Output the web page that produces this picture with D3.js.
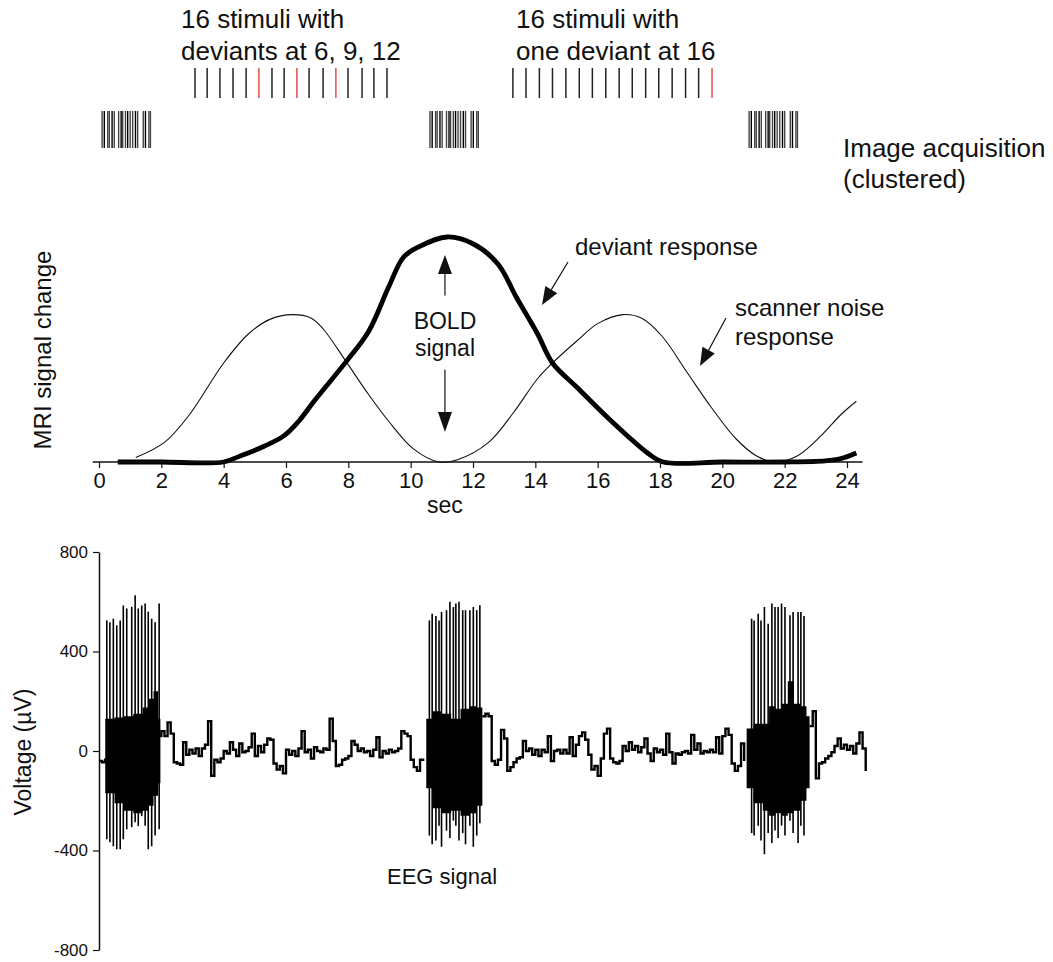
<!DOCTYPE html>
<html>
<head>
<meta charset="utf-8">
<script src="https://cdn.jsdelivr.net/npm/d3@7"></script>
<style>
  body { margin: 0; background: #fff; }
  svg text { font-family: Arial, "Liberation Sans", sans-serif; fill: #111; }
</style>
</head>
<body>
<div class="chart"></div>
<script>
// ---- stimulus schedule (sec) ----
const stimBlock1 = [3.08, 3.47, 3.88, 4.30, 4.72, 5.13, 5.55, 5.94, 6.35, 6.74, 7.19, 7.60, 7.99, 8.44, 8.82, 9.24];
const deviants1 = [6, 9, 12];
const stimBlock2 = [13.28, 13.70, 14.13, 14.55, 14.98, 15.41, 15.83, 16.26, 16.69, 17.11, 17.54, 17.96, 18.39, 18.82, 19.24, 19.67];
const deviants2 = [16];

// clustered image acquisition: cluster onsets + slice offsets (sec)
const acqOnsets = [0.10, 10.62, 20.86];
const sliceOffsets = [0, 0.07, 0.18, 0.23, 0.32, 0.39, 0.53, 0.61, 0.66, 0.75, 0.82, 0.90, 0.98, 1.07, 1.14, 1.32, 1.39, 1.50, 1.55];

// ---- MRI responses (relative signal change) ----
const boldT = [0.6, 2, 4, 4.5, 5.3, 5.94, 6.4, 6.9, 7.93, 8.65, 9.3, 9.77, 10.24, 11.17, 12.0, 12.8, 13.4, 14.07, 14.55, 15.35, 16.15, 16.95, 17.6, 18.1, 20, 22, 23.3, 23.8, 24.3];
const boldV = [0, 0, 0, 0.025, 0.07, 0.117, 0.18, 0.27, 0.446, 0.58, 0.78, 0.91, 0.955, 1.0, 0.97, 0.88, 0.73, 0.57, 0.44, 0.33, 0.22, 0.117, 0.04, 0, 0, 0, 0.005, 0.015, 0.04];
const noiseT = [1.18, 2.1, 2.9, 4.0, 4.8, 5.5, 6.2, 6.8, 7.2, 7.93, 8.65, 9.3, 10.1, 10.9, 11.5, 12.5, 13.3, 14.07, 14.55, 15.35, 16.0, 16.8, 17.4, 18.06, 18.86, 19.66, 20.46, 21.1, 21.7, 22.4, 23.17, 23.8, 24.3];
const noiseV = [0.02, 0.087, 0.21, 0.44, 0.57, 0.635, 0.655, 0.64, 0.59, 0.446, 0.30, 0.18, 0.057, 0, 0.01, 0.087, 0.22, 0.37, 0.44, 0.54, 0.615, 0.655, 0.64, 0.56, 0.40, 0.24, 0.10, 0.027, 0, 0.027, 0.117, 0.21, 0.27];
const mriTicks = [0, 2, 4, 6, 8, 10, 12, 14, 16, 18, 20, 22, 24];

// ---- EEG (µV) ----
const eegTicks = [-800, -400, 0, 400, 800];
const eegStep = 0.1;
const eegSeg0Start = 0, eegSeg0 = [-40, -45, -30];
const eegSeg1Start = 1.9, eegSeg1 = [60, 80, 60, 115, 70, -45, -50, -55, 35, -15, 5, -10, 10, -20, 10, 25, 120, -100, -35, -45,
  -30, 0, -10, 35, 5, -20, 30, -5, 0, 15, 70, -20, 20, -5, 25, 50, 45, -50, -75, -60,
  -90, 5, -15, 0, -20, 10, 80, -5, 5, -30, 15, 0, -5, 10, 5, 130, 40, -60, -55, -35,
  -30, -20, 40, 25, 0, 10, -5, 0, -20, 5, 55, -25, 0, -10, 5, -5, 0, 10, 80, 70,
  60, -35, -65, -80, -35, -30];
const eegSeg2Start = 12.3, eegSeg2 = [140, 150, 140, -40, -55, -35, 85, 50, -80, -65, -45, -30, -25, 40, 0, 10, -15, 5, -20, 5,
  -5, 60, -40, 0, 5, -10, 5, -10, 55, -20, 25, 60, 75, 45, -15, -75, -60, -100, -30, 70,
  90, -30, -45, -50, -40, 20, 0, 35, 5, 20, -5, 15, 50, -10, -40, 10, -5, 5, -15, 70,
  -5, -50, -10, -15, -5, 0, -10, 65, 5, 30, -10, 0, -5, 5, -5, 55, -10, 60, 90, 65,
  -50, -80, -60, 30, -40];
const eegSeg3Start = 22.8, eegSeg3 = [100, 160, -110, -50, -45, -30, -20, -5, 20, 50, 10, 25, 5, 20, -10, 30, 75, 10, -80];

// gradient artefact bursts: spike times, peaks, troughs, and the dense band envelope
const burst1T = [0.25, 0.35, 0.46, 0.57, 0.68, 0.78, 0.89, 1.05, 1.16, 1.26, 1.37, 1.48, 1.58, 1.69, 1.80, 1.93];
const burst1Hi = [525, 518, 532, 505, 525, 585, 573, 580, 626, 573, 585, 593, 560, 532, 518, 593];
const burst1Lo = [-355, -367, -383, -395, -395, -355, -315, -306, -286, -302, -262, -300, -395, -383, -340, -315];
const band1T = [0.2, 0.5, 0.8, 1.1, 1.4, 1.6, 1.75, 1.9, 1.97];
const band1Hi = [130, 135, 140, 150, 175, 210, 240, 130, 90];
const band1Lo = [-170, -210, -240, -250, -240, -220, -180, -130, -110];

const burst2T = [10.60, 10.69, 10.81, 10.91, 10.99, 11.15, 11.26, 11.37, 11.45, 11.55, 11.67, 11.76, 11.90, 12.01, 12.12, 12.22];
const burst2Hi = [525, 552, 543, 525, 559, 566, 600, 579, 593, 600, 566, 566, 566, 579, 566, 586];
const burst2Lo = [-340, -375, -360, -300, -385, -320, -350, -280, -300, -360, -330, -375, -300, -385, -340, -290];
const band2T = [10.5, 10.7, 11.0, 11.3, 11.6, 11.9, 12.1, 12.3];
const band2Hi = [130, 160, 150, 130, 170, 180, 175, 140];
const band2Lo = [-150, -230, -250, -240, -260, -250, -220, -150];

const burst3T = [20.94, 21.02, 21.15, 21.24, 21.35, 21.47, 21.59, 21.69, 21.79, 21.90, 22.01, 22.17, 22.27, 22.43, 22.52, 22.62];
const burst3Hi = [532, 525, 552, 525, 579, 512, 593, 579, 579, 593, 579, 546, 559, 559, 559, 543];
const burst3Lo = [-330, -340, -300, -360, -415, -330, -370, -320, -350, -300, -340, -280, -330, -370, -300, -340];
const band3T = [20.78, 21.0, 21.3, 21.5, 21.7, 21.9, 22.1, 22.3, 22.5, 22.7, 22.8];
const band3Hi = [90, 110, 110, 180, 170, 190, 280, 190, 180, 140, 100];
const band3Lo = [-150, -210, -240, -260, -250, -260, -250, -240, -200, -150, -60];


const width = 1053, height = 962;
const ink = "#111";
const fontFam = 'Arial, "Liberation Sans", sans-serif';

const svg = d3.select(".chart")
  .append("svg")
    .attr("width", width)
    .attr("height", height);

// one time axis shared by all three panels
const x = d3.scaleLinear().domain([0, 24]).range([99, 847]);
const yMri = d3.scaleLinear().domain([0, 1]).range([462, 237]);
const yEeg = d3.scaleLinear().domain([-800, 800]).range([950, 552]);


// ---------- top schematic ----------
const topG = svg.append("g");

function stimLabel(xPos, lines) {
  lines.forEach((t, i) => {
    topG.append("text").attr("x", xPos).attr("y", 28 + i * 32)
      .style("font-size", "26px").text(t);
  });
}
stimLabel(181, ["16 stimuli with", "deviants at 6, 9, 12"]);
stimLabel(516, ["16 stimuli with", "one deviant at 16"]);

function stimLines(times, devs) {
  topG.append("g").selectAll("line")
    .data(times)
    .enter().append("line")
      .attr("x1", d => x(d)).attr("x2", d => x(d))
      .attr("y1", 68).attr("y2", 98)
      .attr("stroke", (d, i) => devs.includes(i + 1) ? "#e0504a" : "#222")
      .attr("stroke-width", 1.5);
}
stimLines(stimBlock1, deviants1);
stimLines(stimBlock2, deviants2);

// acquisition clusters
const slices = [];
acqOnsets.forEach(on => sliceOffsets.forEach((o, i) => slices.push({t: on + o, i: i})));
topG.append("g").selectAll("line")
  .data(slices)
  .enter().append("line")
    .attr("x1", d => x(d.t)).attr("x2", d => x(d.t))
    .attr("y1", 111).attr("y2", 148)
    .attr("stroke", d => d.i % 3 === 1 ? "#000" : "#444")
    .attr("stroke-width", 1.4);

topG.append("text").attr("x", 843).attr("y", 157).style("font-size", "26px").text("Image acquisition");
topG.append("text").attr("x", 843).attr("y", 188).style("font-size", "26px").text("(clustered)");


// ---------- MRI panel ----------
const mri = svg.append("g");

const line = d3.line()
  .x(d => x(d[0]))
  .y(d => yMri(d[1]))
  .curve(d3.curveCatmullRom.alpha(0.5));

mri.append("path")
  .datum(d3.zip(noiseT, noiseV))
  .attr("d", line)
  .attr("fill", "none").attr("stroke", ink).attr("stroke-width", 1.1);

mri.append("path")
  .datum(d3.zip(boldT, boldV))
  .attr("d", line)
  .attr("fill", "none").attr("stroke", "#000").attr("stroke-width", 4.8)
  .attr("stroke-linejoin", "round");

const gx = mri.append("g")
  .attr("transform", "translate(0,462)")
  .attr("font-family", fontFam)
  .call(d3.axisBottom(x).tickValues(mriTicks).tickSize(6).tickSizeOuter(0).tickPadding(4));
gx.select(".domain").remove();
gx.append("line")
  .attr("x1", x(-0.2)).attr("x2", x(24.5))
  .attr("stroke", ink).attr("stroke-width", 1.3);
gx.selectAll(".tick line").attr("stroke", ink).attr("stroke-width", 1.2);
gx.selectAll(".tick text").style("font-size", "22px").attr("fill", ink);

mri.append("text")
  .attr("x", x(11.1)).attr("y", 513)
  .attr("text-anchor", "middle").style("font-size", "23px").text("sec");

mri.append("text")
  .attr("transform", "translate(51,350) rotate(-90)")
  .attr("text-anchor", "middle").style("font-size", "24px").text("MRI signal change");

function arrow(g, x1, y1, x2, y2, len, half) {
  const a = Math.atan2(y2 - y1, x2 - x1);
  const bx = x2 - len * Math.cos(a), by = y2 - len * Math.sin(a);
  const px = -Math.sin(a) * half, py = Math.cos(a) * half;
  g.append("line")
    .attr("x1", x1).attr("y1", y1).attr("x2", bx).attr("y2", by)
    .attr("stroke", ink).attr("stroke-width", 1.2);
  g.append("path")
    .attr("d", `M${x2},${y2}L${bx + px},${by + py}L${bx - px},${by - py}Z`)
    .attr("fill", ink);
}

// BOLD double arrow
const boldX = x(11.1);
arrow(mri, boldX, yMri(0.74), boldX, yMri(0.92), 19, 7);
arrow(mri, boldX, yMri(0.41), boldX, yMri(0.133), 20, 7);
mri.append("text").attr("x", boldX).attr("y", 329).attr("text-anchor", "middle").style("font-size", "23px").text("BOLD");
mri.append("text").attr("x", boldX).attr("y", 356).attr("text-anchor", "middle").style("font-size", "23px").text("signal");

mri.append("text").attr("x", 575).attr("y", 255).style("font-size", "24px").text("deviant response");
arrow(mri, 568, 262, 542, 305, 18, 7);

mri.append("text").attr("x", 735).attr("y", 316).style("font-size", "24px").text("scanner noise");
mri.append("text").attr("x", 735).attr("y", 345).style("font-size", "24px").text("response");
arrow(mri, 726, 318, 700, 366, 18, 7);


// ---------- EEG panel ----------
const eeg = svg.append("g");

const gy = eeg.append("g")
  .attr("transform", "translate(99,0)")
  .attr("font-family", fontFam)
  .call(d3.axisLeft(yEeg).tickValues(eegTicks).tickFormat(d => String(d))
    .tickSize(6).tickSizeOuter(0).tickPadding(5));
gy.select(".domain").attr("stroke", ink).attr("stroke-width", 1.5);
gy.selectAll(".tick line").attr("stroke", ink).attr("stroke-width", 1.2);
gy.selectAll(".tick text").style("font-size", "17px").attr("fill", "#444");

eeg.append("text")
  .attr("transform", "translate(31,752) rotate(-90)")
  .attr("text-anchor", "middle").style("font-size", "23px").text("Voltage (\u00b5V)");

const band = d3.area()
  .x(d => x(d[0]))
  .y0(d => yEeg(d[2]))
  .y1(d => yEeg(d[1]))
  .curve(d3.curveStepAfter);

const bursts = [
  {t: burst1T, hi: burst1Hi, lo: burst1Lo, bt: band1T, bh: band1Hi, bl: band1Lo},
  {t: burst2T, hi: burst2Hi, lo: burst2Lo, bt: band2T, bh: band2Hi, bl: band2Lo},
  {t: burst3T, hi: burst3Hi, lo: burst3Lo, bt: band3T, bh: band3Hi, bl: band3Lo}
];

bursts.forEach(b => {
  eeg.append("path")
    .datum(d3.zip(b.bt, b.bh, b.bl))
    .attr("d", band)
    .attr("fill", "#000");
  eeg.append("g").selectAll("line")
    .data(d3.zip(b.t, b.hi, b.lo))
    .enter().append("line")
      .attr("x1", d => x(d[0])).attr("x2", d => x(d[0]))
      .attr("y1", d => yEeg(d[1])).attr("y2", d => yEeg(d[2]))
      .attr("stroke", "#000").attr("stroke-width", 1.6);
});

const trace = d3.line()
  .x(d => x(d[0]))
  .y(d => yEeg(d[1]))
  .curve(d3.curveStepAfter);

[[eegSeg0Start, eegSeg0], [eegSeg1Start, eegSeg1], [eegSeg2Start, eegSeg2], [eegSeg3Start, eegSeg3]]
  .forEach(([start, vals]) => {
    eeg.append("path")
      .datum(vals.map((v, i) => [start + i * eegStep, v]))
      .attr("d", trace)
      .attr("fill", "none").attr("stroke", "#000").attr("stroke-width", 2.4);
  });

eeg.append("text")
  .attr("x", 442).attr("y", 884)
  .attr("text-anchor", "middle").style("font-size", "22px").text("EEG signal");
</script>
</body>
</html>
